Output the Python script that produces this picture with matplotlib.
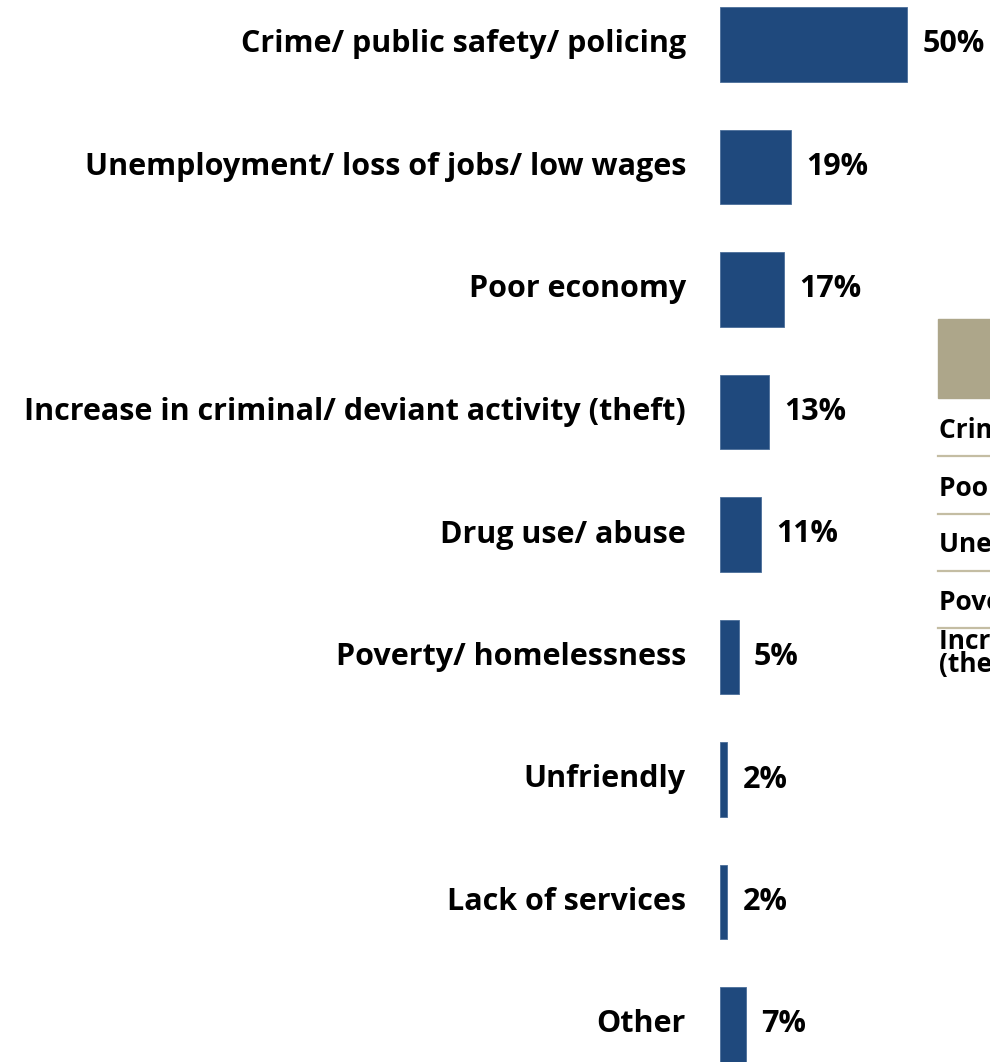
import matplotlib
matplotlib.use("Agg")
import matplotlib.pyplot as plt
from matplotlib.patches import Rectangle
from matplotlib.lines import Line2D

categories = [
    "Crime/ public safety/ policing",
    "Unemployment/ loss of jobs/ low wages",
    "Poor economy",
    "Increase in criminal/ deviant activity (theft)",
    "Drug use/ abuse",
    "Poverty/ homelessness",
    "Unfriendly",
    "Lack of services",
    "Other",
]
values = [50, 19, 17, 13, 11, 5, 2, 2, 7]
value_labels = ["50%", "19%", "17%", "13%", "11%", "5%", "2%", "2%", "7%"]

table_rows = [
    "Crime/ public safety/ policing",
    "Poor economy",
    "Unemployment/ loss of jobs/ low wages",
    "Poverty/ homelessness",
    "Increase in criminal/ deviant activity\n(theft)",
]

FONT = ["Open Sans", "DejaVu Sans"]
BAR = "#1F497D"
TAN = "#ADA68A"
LINE = "#C4BDA3"

W, H = 990, 1062
fig = plt.figure(figsize=(W / 100, H / 100), dpi=100)
fig.patch.set_facecolor("white")

ax = fig.add_axes([720 / W, 0, 1 - 720 / W, 1])
ypos = list(range(len(categories)))
ax.barh(ypos, values, height=0.612, color=BAR, edgecolor="#4A6E9A", linewidth=0.6)
ax.set_xlim(0, 270 / 3.74)
ax.set_ylim((H - 44.5) / 122.5, -44.5 / 122.5)
ax.axis("off")

for y, v, lab, cat in zip(ypos, values, value_labels, categories):
    ax.annotate(lab, xy=(v, y), xytext=(11, 0), textcoords="offset points",
                ha="left", va="center", fontsize=22, fontweight="bold",
                family=FONT, color="black", annotation_clip=False)
    ax.annotate(cat, xy=(0, y), xytext=(-24.5, 0), textcoords="offset points",
                ha="right", va="center", fontsize=22, fontweight="bold",
                family=FONT, color="black", annotation_clip=False)

# partially visible table on the right (cut off by the figure edge, as in the reference)
def fx(px):
    return px / W

def fy(py):
    return 1 - py / H

fig.add_artist(Rectangle((fx(938), fy(398)), fx(W - 938) + 0.01, (398 - 319) / H,
                         transform=fig.transFigure, color=TAN, clip_on=False))
row_y = [431, 489, 545, 602, 653]
line_y = [456, 514, 571, 628]
for txt, ry in zip(table_rows, row_y):
    fig.text(fx(939), fy(ry), txt, ha="left", va="center", fontsize=19,
             fontweight="bold", family=FONT, color="black", linespacing=0.85)
for ly in line_y:
    fig.add_artist(Line2D([fx(938), 1.01], [fy(ly), fy(ly)], transform=fig.transFigure,
                          color=LINE, linewidth=1.6))

fig.savefig("out.png", dpi=100)
